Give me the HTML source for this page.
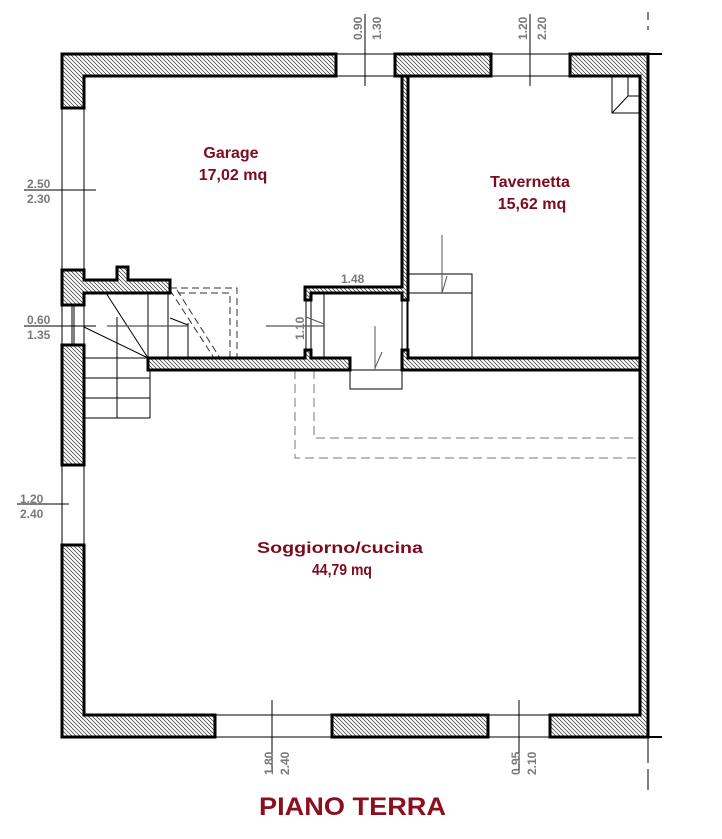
<!DOCTYPE html>
<html><head><meta charset="utf-8"><style>
html,body{margin:0;padding:0;background:#fff;}
svg{display:block;}
.d{font-family:"Liberation Sans",sans-serif;font-weight:bold;font-size:12px;fill:#7a7a7a;}
.r{font-family:"Liberation Sans",sans-serif;font-weight:bold;font-size:16px;fill:#7b0b1e;text-anchor:middle;}
</style></head><body>
<svg width="722" height="839" viewBox="0 0 722 839" xmlns="http://www.w3.org/2000/svg">
<defs>
<pattern id="h" patternUnits="userSpaceOnUse" width="4" height="4">
<path d="M-1,-1 L5,5 M-1,3 L1,5 M3,-1 L5,1" stroke="#333" stroke-width="0.7"/>
</pattern>
</defs>
<rect width="722" height="839" fill="#fff"/>

<!-- thin lines: windows -->
<g stroke="#000" stroke-width="1" fill="none">
<line x1="336" y1="54" x2="395" y2="54"/><line x1="336" y1="76" x2="395" y2="76"/>
<line x1="491" y1="54" x2="570" y2="54"/><line x1="491" y1="76" x2="570" y2="76"/>
<line x1="648" y1="54" x2="662" y2="54" stroke-width="2"/>
<line x1="215" y1="715" x2="332" y2="715"/><line x1="215" y1="737" x2="332" y2="737"/>
<line x1="488" y1="715" x2="550" y2="715"/><line x1="488" y1="737" x2="550" y2="737"/>
<line x1="648" y1="737" x2="662" y2="737" stroke-width="2"/>
<line x1="62" y1="108" x2="62" y2="270"/><line x1="84" y1="108" x2="84" y2="270"/>
<line x1="62" y1="305" x2="62" y2="345"/><line x1="72" y1="305" x2="72" y2="345"/><line x1="74" y1="305" x2="74" y2="345"/><line x1="84" y1="305" x2="84" y2="345"/>
<line x1="62" y1="465" x2="62" y2="545"/><line x1="84" y1="465" x2="84" y2="545"/>
<!-- dim lines -->
<line x1="365" y1="14" x2="365" y2="86"/>
<line x1="530" y1="14" x2="530" y2="86"/>
<line x1="272" y1="700" x2="272" y2="772"/>
<line x1="519" y1="700" x2="519" y2="772"/>
<line x1="24" y1="190" x2="96" y2="190"/>
<line x1="24" y1="326" x2="96" y2="326"/>
<line x1="17" y1="504" x2="69" y2="504"/>
<line x1="648" y1="12" x2="648" y2="30" stroke-dasharray="8 6"/>
<line x1="648" y1="737" x2="648" y2="790" stroke-dasharray="26 6"/>
<!-- stairs -->
<line x1="84" y1="358" x2="148" y2="358"/><line x1="84" y1="378" x2="150" y2="378"/>
<line x1="84" y1="398" x2="150" y2="398"/><line x1="84" y1="418" x2="150" y2="418"/>
<line x1="150" y1="370" x2="150" y2="418"/>
<line x1="117" y1="317" x2="117" y2="418"/>
<line x1="148" y1="293" x2="148" y2="358"/>
<line x1="168" y1="293" x2="168" y2="358"/>
<line x1="188" y1="323" x2="188" y2="358"/>
<line x1="106" y1="293" x2="148" y2="358"/>
<line x1="84" y1="327" x2="148" y2="358"/>
<line x1="170" y1="318" x2="188" y2="325"/>
<!-- closet -->
<line x1="306" y1="300" x2="306" y2="350"/><line x1="311" y1="300" x2="311" y2="350"/>
<line x1="324" y1="293" x2="324" y2="358"/>
<line x1="402" y1="300" x2="402" y2="350"/><line x1="407" y1="300" x2="407" y2="350"/>
<rect x="350" y="370" width="52" height="19"/>
<line x1="375" y1="326" x2="375" y2="370" stroke="#555"/>
<line x1="375" y1="368" x2="382" y2="352" stroke="#555"/>
<line x1="306" y1="317" x2="324" y2="324" stroke="#555"/>
<!-- tavernetta furniture -->
<rect x="408" y="274" width="64" height="84"/>
<line x1="408" y1="293" x2="472" y2="293"/>
<line x1="442" y1="235" x2="442" y2="293" stroke="#555"/>
<line x1="442" y1="293" x2="447" y2="276" stroke="#555"/>
<polyline points="612,76 612,113 640,113"/>
<polyline points="628,76 628,96 640,96"/>
<line x1="612" y1="113" x2="628" y2="96"/>
</g>
<g stroke="#555" stroke-width="1.3" fill="none">
<line x1="107" y1="326" x2="188" y2="326"/>
<line x1="266" y1="326" x2="324" y2="326"/>
</g>
<!-- dashed -->
<g stroke="#333" stroke-width="1" fill="none" stroke-dasharray="7 4">
<polyline points="170,288 237,288 237,358"/>
<polyline points="178,293 230,293 230,358"/>
<line x1="170" y1="290" x2="214" y2="358"/>
<line x1="177" y1="290" x2="220" y2="358"/>
</g>
<g stroke="#777" stroke-width="1" fill="none" stroke-dasharray="9 5">
<polyline points="295,370 295,458 640,458"/>
<polyline points="314,370 314,438 640,438"/>
</g>

<!-- walls -->
<g fill="url(#h)" stroke="#000" stroke-width="3" stroke-linejoin="miter">
<polygon points="62,54 336,54 336,76 84,76 84,108 62,108"/>
<rect x="395" y="54" width="96" height="22"/>
<polygon points="402,76 408,76 408,300 402,300 402,293 311,293 311,300 305,300 305,287 402,287"/>
<polygon points="570,54 648,54 648,737 550,737 550,715 640,715 640,76 570,76"/>
<polygon points="62,545 84,545 84,715 215,715 215,737 62,737"/>
<rect x="332" y="715" width="156" height="22"/>
<rect x="62" y="345" width="22" height="120"/>
<polygon points="62,270 84,270 84,280 117,280 117,267 128,267 128,280 170,280 170,293 84,293 84,305 62,305"/>
<polygon points="148,358 305,358 305,350 311,350 311,358 350,358 350,370 148,370"/>
<polygon points="402,350 408,350 408,358 640,358 640,370 402,370"/>
</g>

<!-- dim text -->
<text class="d" x="27" y="188">2.50</text>
<text class="d" x="27" y="203">2.30</text>
<text class="d" x="27" y="324">0.60</text>
<text class="d" x="27" y="339">1.35</text>
<text class="d" x="20" y="503">1.20</text>
<text class="d" x="20" y="518">2.40</text>
<text class="d" x="341" y="283">1.48</text>
<text class="d" transform="translate(304,340) rotate(-90)">1.10</text>
<text class="d" transform="translate(362,40) rotate(-90)">0.90</text>
<text class="d" transform="translate(381,40) rotate(-90)">1.30</text>
<text class="d" transform="translate(527,40) rotate(-90)">1.20</text>
<text class="d" transform="translate(546,40) rotate(-90)">2.20</text>
<text class="d" transform="translate(273,775) rotate(-90)">1.80</text>
<text class="d" transform="translate(289,775) rotate(-90)">2.40</text>
<text class="d" transform="translate(520,775) rotate(-90)">0.95</text>
<text class="d" transform="translate(536,775) rotate(-90)">2.10</text>

<!-- room labels -->
<text class="r" x="231" y="158">Garage</text>
<text class="r" x="233" y="180">17,02 mq</text>
<text class="r" x="530" y="187">Tavernetta</text>
<text class="r" x="532" y="209">15,62 mq</text>
<text class="r" x="340" y="553" textLength="166" lengthAdjust="spacingAndGlyphs">Soggiorno/cucina</text>
<text class="r" x="342" y="575" textLength="60" lengthAdjust="spacingAndGlyphs">44,79 mq</text>
<text x="259" y="815" font-family="Liberation Sans, sans-serif" font-weight="bold" font-size="25" fill="#8b0f1e" textLength="187" lengthAdjust="spacingAndGlyphs">PIANO TERRA</text>
</svg>
</body></html>
